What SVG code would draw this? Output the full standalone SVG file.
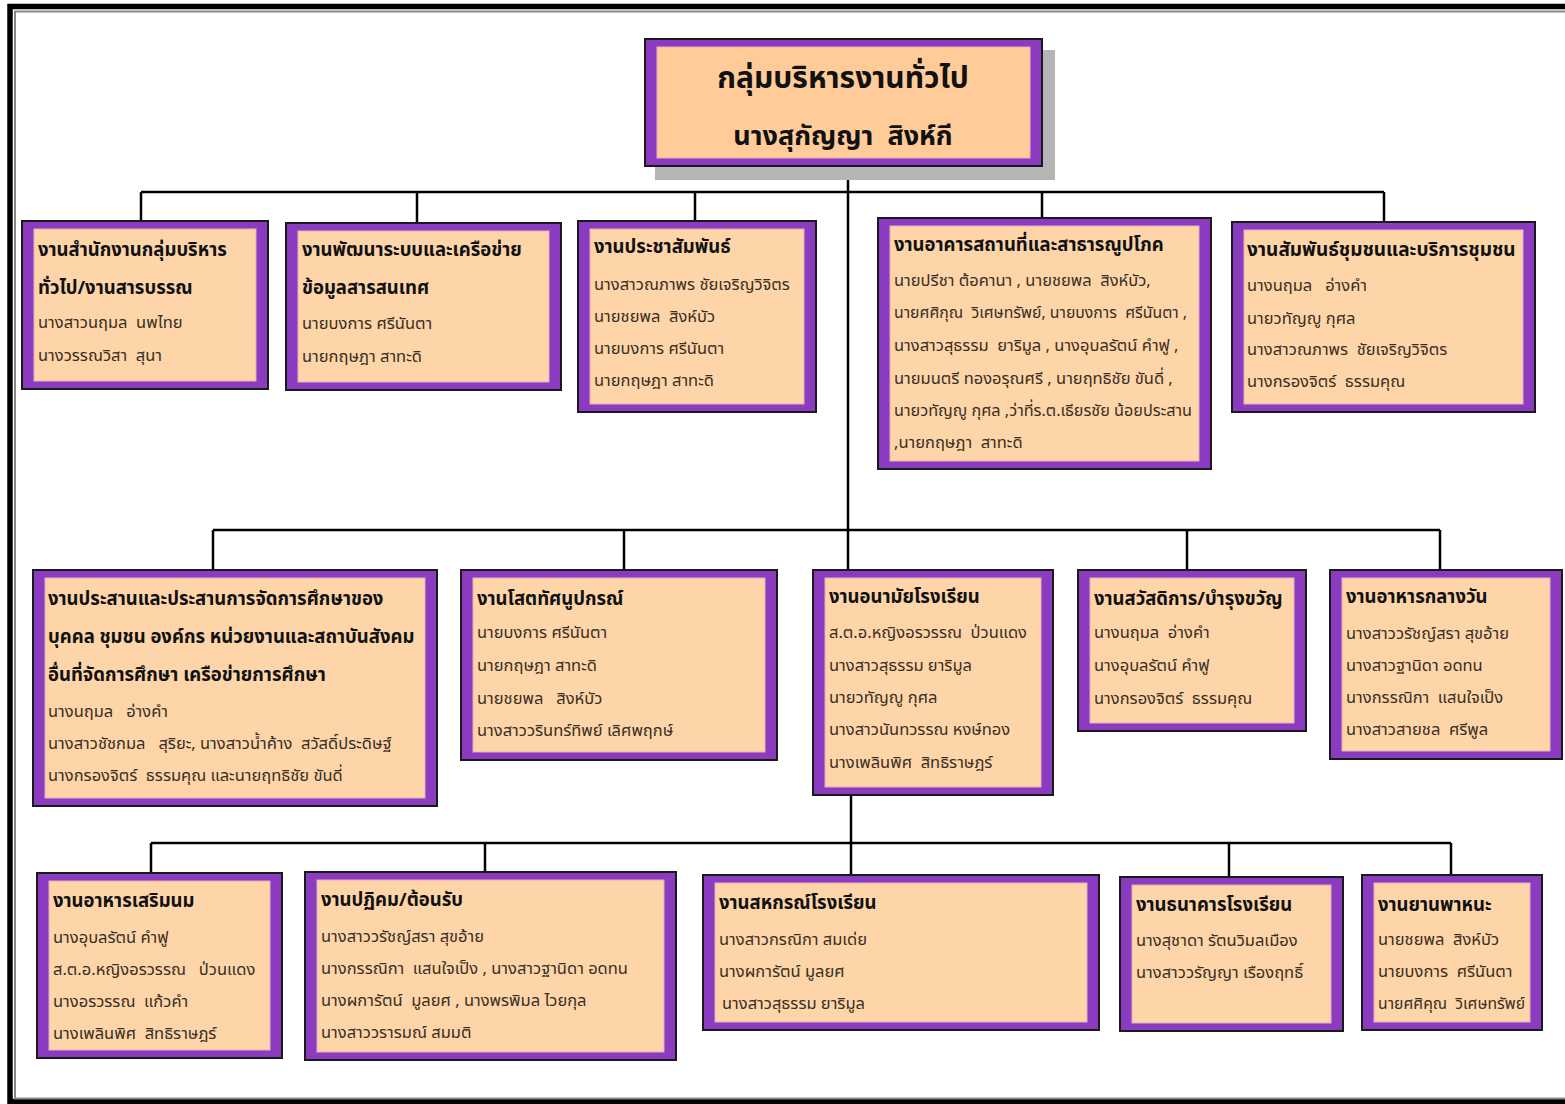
<svg xmlns="http://www.w3.org/2000/svg" width="1565" height="1104" viewBox="0 0 1565 1104">
<style>
.outer{fill:#8A3BC0;stroke:#1a1a1a;stroke-width:2}
.inner{fill:#FDD5A9;stroke:#E8B0B8;stroke-width:1}
.shadow{fill:#b5b5b5}
text{white-space:pre}
.t{font-family:'Noto Sans Thai','Noto Sans','DejaVu Sans',sans-serif;font-weight:bold;font-size:18.5px;fill:#111}
.n{font-family:'Noto Sans Thai','Noto Sans','DejaVu Sans',sans-serif;font-size:16.5px;fill:#3a2e22}
.big{font-family:'Noto Sans Thai','Noto Sans','DejaVu Sans',sans-serif;font-weight:bold;font-size:30px;fill:#111}
.c{fill:none;stroke:#000;stroke-width:2.5}
</style>
<rect width="1565" height="1104" fill="#fff"/>
<g id="frame">
<rect x="10" y="6.5" width="1600" height="1095" fill="none" stroke="#000" stroke-width="5.5"/>
<rect x="15" y="11.5" width="1600" height="1087" fill="none" stroke="#888" stroke-width="2"/>
</g>
<g id="connectors">
<path class="c" d="M848 166V570M141 192H1384M141 192V221M417 192V223M695 192V221M1042 192V218M1384 192V222"/>
<path class="c" d="M213 530H1440M213 530V570M624 530V570M1187 530V570M1440 530V570"/>
<path class="c" d="M851 795V876M151 843H1451M151 843V873M485 843V872M1229 843V877M1451 843V875"/>
</g>
<g id="n-root">
<rect class="shadow" x="655" y="50" width="400" height="130"/>
<rect class="outer" x="645" y="39" width="397" height="127"/>
<rect class="inner" x="657" y="47" width="373" height="111" style="fill:#FFCC99"/>
<text class="big" x="843" y="88" text-anchor="middle">กลุ่มบริหารงานทั่วไป</text>
<text class="big" x="843" y="145" text-anchor="middle" style="font-size:27px">นางสุกัญญา  สิงห์กี</text>
</g>
<g id="n1">
<rect class="outer" x="22" y="221" width="246" height="168"/>
<rect class="inner" x="34" y="229" width="222" height="152"/>
<text class="t" x="38" y="256">งานสำนักงานกลุ่มบริหาร</text>
<text class="t" x="38" y="294">ทั่วไป/งานสารบรรณ</text>
<text class="n" x="38" y="328">นางสาวนฤมล  นพไทย</text>
<text class="n" x="38" y="361">นางวรรณวิสา  สุนา</text>
</g>
<g id="n2">
<rect class="outer" x="286" y="223" width="275" height="167"/>
<rect class="inner" x="298" y="231" width="251" height="151"/>
<text class="t" x="302" y="256">งานพัฒนาระบบและเครือข่าย</text>
<text class="t" x="302" y="294">ข้อมูลสารสนเทศ</text>
<text class="n" x="302" y="329">นายบงการ ศรีนันตา</text>
<text class="n" x="302" y="362">นายกฤษฎา สาทะดิ</text>
</g>
<g id="n3">
<rect class="outer" x="578" y="221" width="238" height="191"/>
<rect class="inner" x="590" y="229" width="214" height="175"/>
<text class="t" x="594" y="253">งานประชาสัมพันธ์</text>
<text class="n" x="594" y="290">นางสาวณภาพร ชัยเจริญวิจิตร</text>
<text class="n" x="594" y="322">นายชยพล  สิงห์บัว</text>
<text class="n" x="594" y="354">นายบงการ ศรีนันตา</text>
<text class="n" x="594" y="386">นายกฤษฎา สาทะดิ</text>
</g>
<g id="n4">
<rect class="outer" x="878" y="218" width="333" height="251"/>
<rect class="inner" x="890" y="226" width="309" height="235"/>
<text class="t" x="894" y="251">งานอาคารสถานที่และสาธารณูปโภค</text>
<text class="n" x="894" y="286">นายปรีชา ต้อคานา , นายชยพล  สิงห์บัว,</text>
<text class="n" x="894" y="318" textLength="293" lengthAdjust="spacingAndGlyphs">นายศศิกุณ  วิเศษทรัพย์, นายบงการ  ศรีนันตา ,</text>
<text class="n" x="894" y="351">นางสาวสุธรรม  ยาริมูล , นางอุบลรัตน์ คำฟู ,</text>
<text class="n" x="894" y="384">นายมนตรี ทองอรุณศรี , นายฤทธิชัย ขันดี่ ,</text>
<text class="n" x="894" y="416" textLength="298" lengthAdjust="spacingAndGlyphs">นายวทัญญู กุศล ,ว่าที่ร.ต.เธียรชัย น้อยประสาน</text>
<text class="n" x="894" y="448">,นายกฤษฎา  สาทะดิ</text>
</g>
<g id="n5">
<rect class="outer" x="1232" y="222" width="303" height="190"/>
<rect class="inner" x="1244" y="230" width="279" height="174"/>
<text class="t" x="1247" y="256" style="font-size:19px">งานสัมพันธ์ชุมชนและบริการชุมชน</text>
<text class="n" x="1247" y="291">นางนฤมล   อ่างคำ</text>
<text class="n" x="1247" y="324">นายวทัญญู กุศล</text>
<text class="n" x="1247" y="355">นางสาวณภาพร  ชัยเจริญวิจิตร</text>
<text class="n" x="1247" y="387">นางกรองจิตร์  ธรรมคุณ</text>
</g>
<g id="n6">
<rect class="outer" x="33" y="570" width="404" height="236"/>
<rect class="inner" x="45" y="578" width="380" height="220"/>
<text class="t" x="48" y="605">งานประสานและประสานการจัดการศึกษาของ</text>
<text class="t" x="48" y="643">บุคคล ชุมชน องค์กร หน่วยงานและสถาบันสังคม</text>
<text class="t" x="48" y="681">อื่นที่จัดการศึกษา เครือข่ายการศึกษา</text>
<text class="n" x="48" y="717">นางนฤมล   อ่างคำ</text>
<text class="n" x="48" y="749">นางสาวชัชกมล   สุริยะ, นางสาวน้ำค้าง  สวัสดิ์ประดิษฐ์</text>
<text class="n" x="48" y="781">นางกรองจิตร์  ธรรมคุณ และนายฤทธิชัย ขันดี่</text>
</g>
<g id="n7">
<rect class="outer" x="461" y="570" width="316" height="190"/>
<rect class="inner" x="473" y="578" width="292" height="174"/>
<text class="t" x="477" y="605">งานโสตทัศนูปกรณ์</text>
<text class="n" x="477" y="638">นายบงการ ศรีนันตา</text>
<text class="n" x="477" y="671">นายกฤษฎา สาทะดิ</text>
<text class="n" x="477" y="704">นายชยพล   สิงห์บัว</text>
<text class="n" x="477" y="736">นางสาววรินทร์ทิพย์ เลิศพฤกษ์</text>
</g>
<g id="n8">
<rect class="outer" x="813" y="570" width="240" height="225"/>
<rect class="inner" x="825" y="578" width="216" height="209"/>
<text class="t" x="829" y="603">งานอนามัยโรงเรียน</text>
<text class="n" x="829" y="638">ส.ต.อ.หญิงอรวรรณ  ป่วนแดง</text>
<text class="n" x="829" y="671">นางสาวสุธรรม ยาริมูล</text>
<text class="n" x="829" y="703">นายวทัญญู กุศล</text>
<text class="n" x="829" y="735">นางสาวนันทวรรณ หงษ์ทอง</text>
<text class="n" x="829" y="768">นางเพลินพิศ  สิทธิราษฎร์</text>
</g>
<g id="n9">
<rect class="outer" x="1078" y="570" width="228" height="161"/>
<rect class="inner" x="1090" y="578" width="204" height="145"/>
<text class="t" x="1094" y="605">งานสวัสดิการ/บำรุงขวัญ</text>
<text class="n" x="1094" y="638">นางนฤมล  อ่างคำ</text>
<text class="n" x="1094" y="671">นางอุบลรัตน์ คำฟู</text>
<text class="n" x="1094" y="704">นางกรองจิตร์  ธรรมคุณ</text>
</g>
<g id="n10">
<rect class="outer" x="1330" y="570" width="232" height="189"/>
<rect class="inner" x="1342" y="578" width="208" height="173"/>
<text class="t" x="1346" y="603">งานอาหารกลางวัน</text>
<text class="n" x="1346" y="639">นางสาววรัชญ์สรา สุขอ้าย</text>
<text class="n" x="1346" y="671">นางสาวฐานิดา อดทน</text>
<text class="n" x="1346" y="703">นางกรรณิกา  แสนใจเป็ง</text>
<text class="n" x="1346" y="735">นางสาวสายชล  ศรีพูล</text>
</g>
<g id="n11">
<rect class="outer" x="37" y="873" width="245" height="185"/>
<rect class="inner" x="49" y="881" width="221" height="169"/>
<text class="t" x="53" y="907">งานอาหารเสริมนม</text>
<text class="n" x="53" y="943">นางอุบลรัตน์ คำฟู</text>
<text class="n" x="53" y="975">ส.ต.อ.หญิงอรวรรณ   ป่วนแดง</text>
<text class="n" x="53" y="1007">นางอรวรรณ  แก้วคำ</text>
<text class="n" x="53" y="1039">นางเพลินพิศ  สิทธิราษฎร์</text>
</g>
<g id="n12">
<rect class="outer" x="305" y="872" width="371" height="188"/>
<rect class="inner" x="317" y="880" width="347" height="172"/>
<text class="t" x="321" y="906">งานปฏิคม/ต้อนรับ</text>
<text class="n" x="321" y="942">นางสาววรัชญ์สรา สุขอ้าย</text>
<text class="n" x="321" y="974">นางกรรณิกา  แสนใจเป็ง , นางสาวฐานิดา อดทน</text>
<text class="n" x="321" y="1006">นางผการัตน์  มูลยศ , นางพรพิมล ไวยกุล</text>
<text class="n" x="321" y="1038">นางสาววรารมณ์ สมมติ</text>
</g>
<g id="n13">
<rect class="outer" x="703" y="875" width="396" height="155"/>
<rect class="inner" x="715" y="883" width="372" height="139"/>
<text class="t" x="719" y="909">งานสหกรณ์โรงเรียน</text>
<text class="n" x="719" y="945">นางสาวกรณิกา สมเด่ย</text>
<text class="n" x="719" y="977">นางผการัตน์ มูลยศ</text>
<text class="n" x="722" y="1009">นางสาวสุธรรม ยาริมูล</text>
</g>
<g id="n14">
<rect class="outer" x="1120" y="877" width="223" height="154"/>
<rect class="inner" x="1132" y="885" width="199" height="138"/>
<text class="t" x="1136" y="911">งานธนาคารโรงเรียน</text>
<text class="n" x="1136" y="946">นางสุชาดา รัตนวิมลเมือง</text>
<text class="n" x="1136" y="978">นางสาววรัญญา เรืองฤทธิ์</text>
</g>
<g id="n15">
<rect class="outer" x="1362" y="875" width="180" height="155"/>
<rect class="inner" x="1374" y="883" width="156" height="139"/>
<text class="t" x="1378" y="911">งานยานพาหนะ</text>
<text class="n" x="1378" y="945">นายชยพล  สิงห์บัว</text>
<text class="n" x="1378" y="977">นายบงการ  ศรีนันตา</text>
<text class="n" x="1378" y="1009" textLength="147" lengthAdjust="spacingAndGlyphs">นายศศิคุณ  วิเศษทรัพย์</text>
</g>
</svg>
